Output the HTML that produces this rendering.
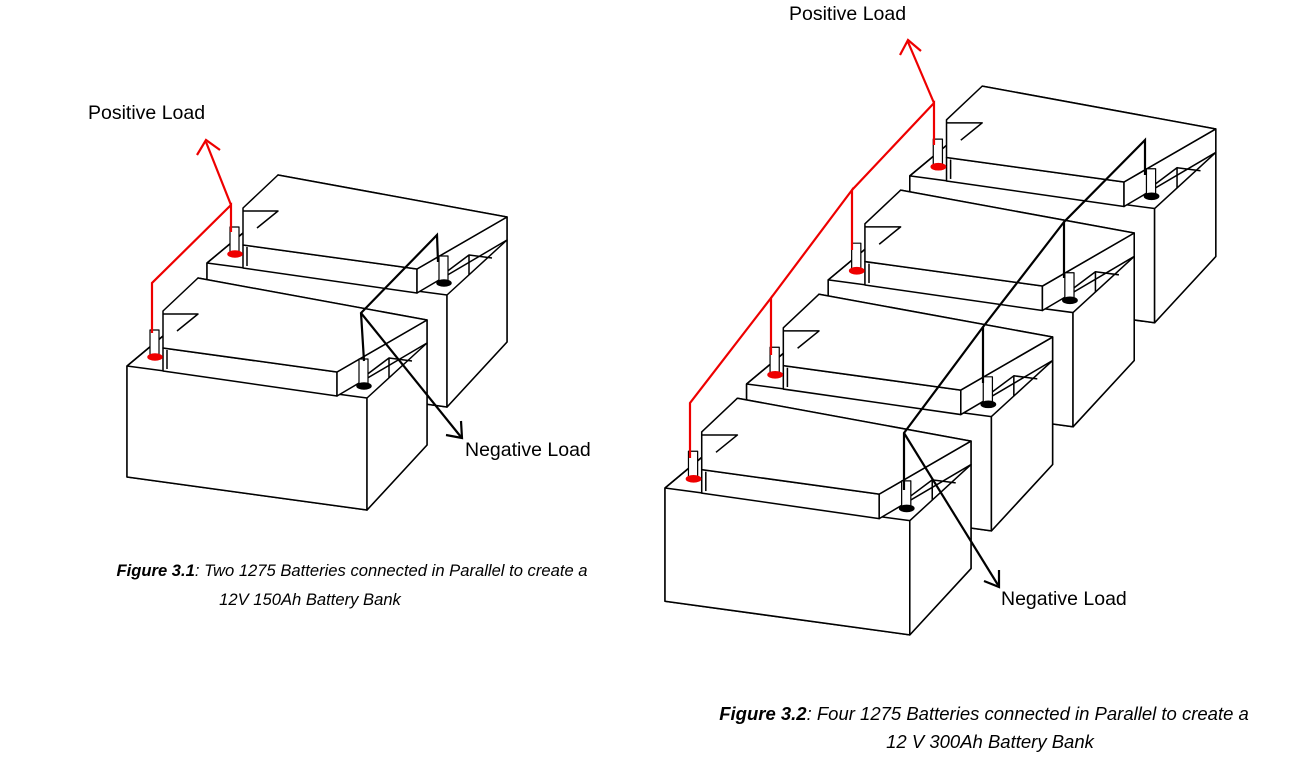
<!DOCTYPE html>
<html><head><style>
body{margin:0;background:#fff;}
svg{display:block}
text{font-family:"Liberation Sans",sans-serif;}
</style></head><body>
<svg width="1308" height="783" viewBox="0 0 1308 783" xmlns="http://www.w3.org/2000/svg">
<defs>
<g id="bat" stroke="#000" stroke-width="1.5" fill="#fff" stroke-linejoin="round">
  <polygon points="0,0 36,-30 71,-88 300,-46 300,79 240,144 0,111"/>
  <polygon points="0,0 240,32 240,144 0,111"/>
  <polygon points="240,32 300,-23 300,79 240,144"/>
  <polygon points="36,-18 210,6 210,30 36,5"/>
  <polygon points="210,6 300,-46 300,-23 210,30"/>
  <polygon points="36,-18 36,-55 71,-88 300,-46 210,6"/>
  <polyline fill="none" points="36,-52 71,-52 50,-35"/>
  <polyline fill="none" points="0,0 36,-30"/>
  <line x1="40" y1="-16" x2="40" y2="3"/>
  <polyline fill="none" points="238,10 262,-8 262,12"/>
  <line x1="262" y1="-8" x2="285" y2="-5"/>
  <rect x="23" y="-36" width="9" height="26" fill="#fff" stroke-width="1.2"/>
  <ellipse cx="28" cy="-9" rx="7" ry="3" fill="#e00" stroke="#e00"/>
  <rect x="232" y="-7" width="9" height="27" fill="#fff" stroke-width="1.2"/>
  <ellipse cx="237" cy="20" rx="7" ry="3" fill="#000"/>
</g>
</defs>

<!-- Figure 3.1 -->
<use href="#bat" x="207" y="263"/>
<use href="#bat" x="127" y="366"/>
<g fill="none" stroke="#e00" stroke-width="2.2">
  <polyline points="152,333 152,283 231,205 231,232"/>
  <polyline points="231,205 206,142"/>
  <polyline points="197,155 206,140 220,150"/>
</g>
<g fill="none" stroke="#000" stroke-width="2.2">
  <polyline points="364,361 361,313 437,235 438,262"/>
  <polyline points="361,313 461,437"/>
  <polyline points="446,435 462,438 461,421"/>
</g>
<text x="88" y="119" font-size="19.5">Positive Load</text>
<text x="465" y="456" font-size="19.5">Negative Load</text>
<text x="352" y="576" font-size="16.6" font-style="italic" text-anchor="middle"><tspan font-weight="bold">Figure 3.1</tspan>: Two 1275 Batteries connected in Parallel to create a</text>
<text x="310" y="605" font-size="16.6" font-style="italic" text-anchor="middle">12V 150Ah Battery Bank</text>

<!-- Figure 3.2 -->
<g transform="translate(665,488) scale(1.02)">
  <use href="#bat" x="240" y="-306"/>
  <use href="#bat" x="160" y="-204"/>
  <use href="#bat" x="80" y="-102"/>
  <use href="#bat" x="0" y="0"/>
</g>
<g fill="none" stroke="#e00" stroke-width="2.2">
  <polyline points="690,458 690,403 771,298 771,355"/>
  <polyline points="771,298 852,190 852,250"/>
  <polyline points="852,190 934,103 934,145"/>
  <polyline points="934,103 908,42"/>
  <polyline points="900,55 908,40 921,51"/>
</g>
<g fill="none" stroke="#000" stroke-width="2.2">
  <polyline points="1145,175 1145,140 1064,222 1064,278"/>
  <polyline points="1064,222 983,327 983,383"/>
  <polyline points="983,327 904,433 904,490"/>
  <polyline points="904,433 998,585"/>
  <polyline points="984,581 999,587 999,570"/>
</g>
<text x="789" y="20" font-size="19.5">Positive Load</text>
<text x="1001" y="605" font-size="19.5">Negative Load</text>
<text x="984" y="720" font-size="18.5" font-style="italic" text-anchor="middle"><tspan font-weight="bold">Figure 3.2</tspan>: Four 1275 Batteries connected in Parallel to create a</text>
<text x="990" y="748" font-size="18.5" font-style="italic" text-anchor="middle">12 V 300Ah Battery Bank</text>
</svg>
</body></html>
